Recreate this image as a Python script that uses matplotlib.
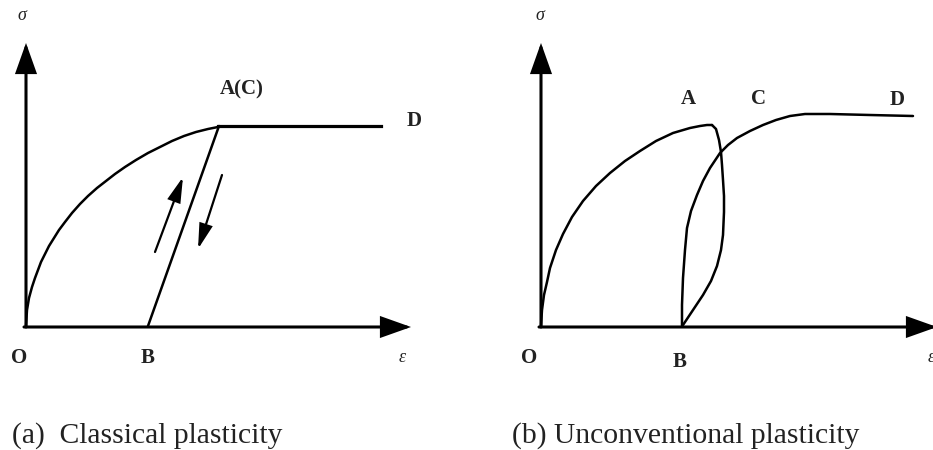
import matplotlib.pyplot as plt
from matplotlib.patches import FancyArrowPatch

# stress-strain sketches, coordinates in figure pixels (y grows downward)
# (a) classical plasticity
load_a_x = [26, 27, 29, 32, 35, 38, 41, 45, 49, 54, 59, 65, 72, 80, 88, 97, 106, 115, 125, 136, 148, 160, 172, 184, 196, 208, 218]
load_a_y = [326, 310, 298, 287, 278, 270, 262, 254, 246, 238, 230, 222, 213, 204, 196, 188, 181, 174, 167, 160, 153, 147, 141, 136, 132, 129, 127]
flat_a_x = [218, 381]
flat_a_y = [126, 126]
unload_a_x = [148, 219]
unload_a_y = [326, 126]
arrow_up_a = [(155, 252), (183, 177)]
arrow_down_a = [(222, 175), (198, 249)]

# (b) unconventional plasticity
load_b_x = [541, 542, 544, 547, 550, 556, 563, 572, 583, 596, 610, 625, 640, 656, 673, 690, 700, 707, 712]
load_b_y = [326, 310, 295, 282, 268, 250, 234, 217, 201, 186, 173, 161, 151, 141, 133, 128, 126, 125, 125]
unload_b_x = [712, 716, 719, 721, 722, 723, 724, 724, 723, 721, 717, 711, 703, 693, 683]
unload_b_y = [125, 129, 140, 152, 165, 180, 196, 212, 235, 250, 266, 281, 295, 310, 325]
reload_b_x = [682, 682, 683, 685, 687, 691, 697, 703, 710, 720, 728, 737, 750, 763, 776, 790, 805, 830, 870, 913]
reload_b_y = [326, 305, 278, 250, 228, 211, 195, 181, 168, 153, 145, 138, 131, 125, 120, 116, 114, 114, 115, 116]

# axes: (origin, y tip, x tip)
axes_a = [(26, 327), (26, 43), (411, 327)]
axes_b = [(541, 327), (541, 43), (937, 327)]

labels = [
    ("σ", 22, 16, True), ("ε", 402, 358, True),
    ("A(C)", 242, 89, False), ("D", 414, 121, False),
    ("O", 19, 358, False), ("B", 148, 358, False),
    ("σ", 540, 15, True), ("ε", 931, 358, True),
    ("A", 688, 99, False), ("C", 758, 99, False), ("D", 897, 100, False),
    ("O", 529, 358, False), ("B", 680, 362, False),
]
captions = [("(a)  Classical plasticity", 12, 443), ("(b) Unconventional plasticity", 512, 443)]

SERIF = "Liberation Serif"

fig = plt.figure(figsize=(9.33, 4.5), dpi=100)
ax = fig.add_axes([0, 0, 1, 1])
ax.set_xlim(0, 933)
ax.set_ylim(450, 0)
ax.axis("off")


def arrow(p0, p1, lw, hl, hw):
    ax.add_patch(FancyArrowPatch(p0, p1, arrowstyle=f"-|>,head_length={hl},head_width={hw}",
                                 mutation_scale=20, lw=lw, color="black",
                                 shrinkA=0, shrinkB=0, joinstyle="miter"))


for origin, ytip, xtip in [axes_a, axes_b]:
    arrow(origin, ytip, 2.2, 0.9, 0.32)
    arrow((origin[0] - 2, origin[1]), xtip, 2.2, 0.9, 0.32)

curve = dict(color="black", lw=1.8, solid_capstyle="round", solid_joinstyle="round")
ax.plot(load_a_x, load_a_y, **curve)
ax.plot(flat_a_x, flat_a_y, color="black", lw=2.3)
ax.plot(unload_a_x, unload_a_y, **curve)
arrow(*arrow_up_a, 1.6, 0.75, 0.2)
arrow(*arrow_down_a, 1.6, 0.75, 0.2)

ax.plot(load_b_x, load_b_y, **curve)
ax.plot(unload_b_x, unload_b_y, **curve)
ax.plot(reload_b_x, reload_b_y, **curve)

for txt, x, y, ital in labels:
    ax.text(x, y, txt, ha="center", va="center", family=SERIF,
            fontsize=13 if ital else 15, style="italic" if ital else "normal",
            weight="normal" if ital else "bold", color="#222222")

for txt, x, y in captions:
    ax.text(x, y, txt, ha="left", va="baseline", family=SERIF, fontsize=21.3, color="#222222")

fig.savefig("out.png", dpi=100)
